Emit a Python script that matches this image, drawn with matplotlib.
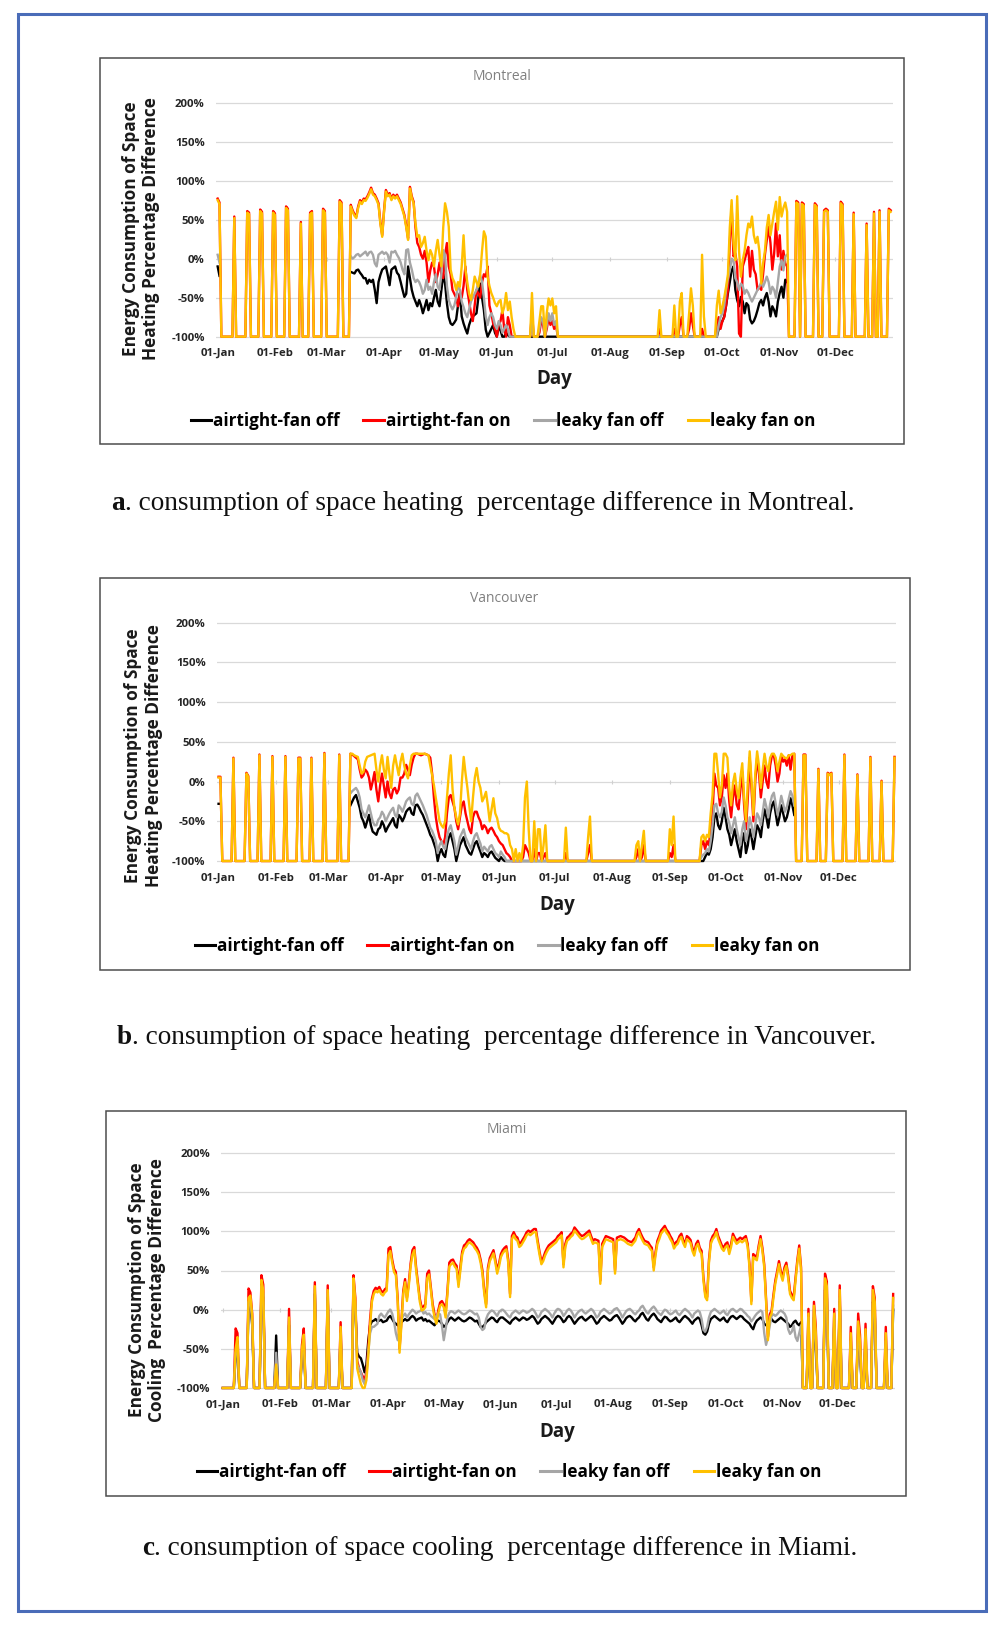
import numpy as np
import matplotlib
matplotlib.use('Agg')
import matplotlib.pyplot as plt
from matplotlib.patches import Rectangle
from matplotlib.lines import Line2D


def unpack(s, name):
    # "_N" = N days at -100 %, "nN" = N days with no value
    out = []
    for tok in s.split():
        if tok.startswith('_'):
            out += [-100.0] * int(tok[1:])
        elif tok.startswith('n'):
            out += [np.nan] * int(tok[1:])
        else:
            out.append(float(tok))
    if len(out) != 365:
        raise ValueError(f"{name}: {len(out)} values")
    return np.array(out)


days = np.arange(365)
month_starts = [0, 31, 59, 90, 120, 151, 181, 212, 243, 273, 304, 334]
month_labels = ['01-Jan', '01-Feb', '01-Mar', '01-Apr', '01-May', '01-Jun',
                '01-Jul', '01-Aug', '01-Sep', '01-Oct', '01-Nov', '01-Dec']
y_ticks = [-100, -50, 0, 50, 100, 150, 200]
y_tick_labels = ['-100%', '-50%', '0%', '50%', '100%', '150%', '200%']
series_labels = ['airtight-fan off', 'airtight-fan on', 'leaky fan off', 'leaky fan on']
series_colors = ['#000000', '#ff0000', '#a6a6a6', '#ffc000']

# ---------------- Montreal (heating) ----------------
mtl_yellow = unpack(
    "75 70 _7 52 _6 59 57 _5 61 58 _5 59 56 _5 65 62 _6 45 _4 57 59 _5 62 59 _7 73 70 _4 "
    "67 60 55 52 65 73 70 75 74 78 83 89 82 80 75 69 45 28 60 86 "
    "80 82 75 80 77 80 75 70 62 54 40 24 90 78 71 45 28 30 15 20 "
    "28 10 -2 11 5 -10 10 24 5 -10 40 71 60 41 -14 -25 -30 -40 -30 -36 "
    "-10 30 -14 -30 -45 -53 -40 -23 -30 -36 -20 10 35 28 -23 -35 -44 -50 -57 -61 "
    "-55 -53 -70 -62 -44 -66 -55 -75 -90 -100 "
    "_8 -44 _3 -80 -61 -61 -100 -70 -51 -60 -51 -70 -61 _55 -66 _7 "
    "-60 _2 -55 -44 _3 -70 -38 -60 _4 5 -74 _6 "
    "-60 -41 -70 -61 -50 -36 -20 40 75 20 -2 80 10 -23 -2 10 30 45 40 54 "
    "30 20 28 10 -32 -6 10 40 56 30 45 60 73 37 79 54 65 72 60 "
    "_4 72 70 -100 70 68 _5 69 66 _3 60 62 60 _6 71 68 _5 57 _6 43 _3 58 _2 60 _4 62 60",
    'mtl_yellow')
mtl_red = unpack(
    "77 72 _7 54 _6 61 59 _5 63 60 _5 61 58 _5 67 64 _6 47 _4 59 61 _5 64 61 _7 75 72 _4 "
    "69 62 57 54 67 75 72 77 76 80 85 91 84 82 77 71 47 30 62 88 "
    "82 84 77 82 79 82 77 72 64 56 42 26 92 80 73 "
    "40 20 15 5 0 10 -5 -30 -15 -5 -10 -30 -20 -5 -20 -25 5 20 -10 -20 "
    "-40 -45 -50 -61 -45 -50 -35 -10 -40 -55 -70 -80 -60 -40 -45 -50 -30 -20 -23 -10 "
    "-60 -70 -83 -90 -100 -85 -80 -66 -90 -100 -75 -85 _3 "
    "_8 -70 _3 -95 -80 -85 -100 -90 -75 -85 -80 -90 -85 _55 -90 _7 "
    "-90 _2 -85 -75 _3 -90 -70 -85 _4 -90 _7 "
    "-85 -75 -90 -80 -75 -60 -40 20 67 3 7 -10 -96 -100 -10 -2 7 15 -23 10 "
    "-14 -20 -40 -36 -40 -20 5 24 41 20 -14 7 45 3 30 -14 10 -6 -10 "
    "_4 74 72 -100 72 70 _5 71 68 _3 62 64 62 _6 73 70 _5 59 _6 45 _3 60 _2 62 _4 64 62",
    'mtl_red')
mtl_black = unpack(
    "-10 -22 n70 "
    "-17 -18 -19 -15 -14 -18 -21 -25 -25 -32 -27 -30 -27 -40 -57 -30 -21 -14 -12 -10 "
    "-21 -34 -14 -12 -10 -18 -21 -30 -40 -49 -45 -10 -25 -40 -49 -55 -61 -53 -60 -70 "
    "-62 -53 -66 -57 -61 -50 -40 -55 -61 -40 -20 -32 -57 -75 -83 -85 -82 -78 -60 -44 "
    "-74 -83 -90 -96 -85 -78 -74 -72 -70 -50 -32 -50 -66 -91 -100 -95 -90 -85 -95 -100 "
    "-87 -92 _2 -95 -98 _4 "
    "_85 "
    "_24 -90 -85 -80 -74 -60 -44 -30 -15 -10 -40 -53 -61 -49 -55 -70 -57 -60 -78 -83 "
    "-80 -74 -66 -57 -53 -60 -50 -44 -55 -74 -61 -66 -74 -55 -44 -36 -50 -27 -30 "
    "n56",
    'mtl_black')
mtl_grey = unpack(
    "5 -5 n70 "
    "3 0 2 5 6 3 5 7 9 4 8 9 5 -6 -10 5 7 9 6 8 "
    "5 -5 9 8 10 5 1 -5 -14 -20 11 12 -5 -14 -25 -30 -27 -30 -36 -45 "
    "-40 -27 -40 -36 -45 -30 -20 -36 -40 -20 11 5 -35 -53 -60 -65 -60 -50 -32 -40 "
    "-55 -62 -70 -75 -65 -55 -50 -45 -40 -30 -21 -30 -50 -74 -85 -75 -70 -75 -85 -90 "
    "-80 -85 -95 -90 -85 -90 _4 "
    "_8 -80 _3 -90 -75 -80 -100 -85 -70 -80 -70 -85 -80 _55 -100 _7 "
    "_24 -85 -75 -70 -60 -40 -25 -15 0 -2 -25 -30 -40 -32 -35 -45 -40 -44 -50 -55 "
    "-50 -45 -40 -36 -30 -36 -30 -23 -30 -45 -36 -40 -50 -30 -10 -2 -15 3 5 "
    "n56",
    'mtl_grey')

# ---------------- Vancouver (heating) ----------------
van_yellow = unpack(
    "5 5 _6 29 _6 10 6 _5 33 _6 31 _6 31 _6 29 29 _5 29 _6 35 _7 33 _5 "
    "35 35 33 32 31 20 10 12 25 31 32 33 34 35 15 0 20 33 15 4 "
    "31 10 -8 20 33 20 8 25 35 20 10 4 20 33 35 35 35 35 35 35 "
    "35 34 33 20 8 -5 -21 -35 -50 -55 -58 -50 -20 10 33 -10 -33 -45 -54 -40 "
    "0 31 10 -8 -30 -50 -20 5 17 0 -8 -25 -20 -13 -30 -50 -35 -21 -40 -46 "
    "-58 -62 -63 -65 -65 -67 -80 -85 -100 -85 -100 "
    "-90 -100 -80 -20 0 -60 _2 -50 -100 -60 -60 -100 -80 -55 _10 -58 _11 -70 -44 _24 "
    "-80 -75 -100 -80 -62 _13 -60 -80 -44 _14 "
    "-70 -67 -75 -67 -70 -40 -17 35 35 10 -20 -5 35 35 30 -8 -30 -2 10 -10 "
    "-21 5 23 -20 -50 0 38 0 -42 10 38 20 -8 15 35 20 13 30 35 35 "
    "30 13 25 35 32 30 29 33 33 35 35 "
    "_4 33 33 _6 15 _4 10 8 10 _6 33 _6 8 _6 30 _5 0 _6 30",
    'van_yellow')
van_red = unpack(
    "6 6 _6 30 _6 11 7 _5 34 _6 32 _6 32 _6 30 30 _5 30 _6 36 _7 34 _5 "
    "35 34 32 30 28 15 5 8 15 12 5 -10 0 12 -10 -25 -5 10 -5 -20 "
    "0 -15 -21 -10 -8 -15 -10 5 5 10 21 15 8 21 30 35 35 34 33 34 "
    "35 34 33 30 10 -21 -45 -60 -70 -75 -80 -70 -40 -20 -17 -25 -33 -50 -60 -45 "
    "-30 -25 -40 -50 -60 -65 -45 -38 -38 -45 -50 -60 -55 -58 -65 -60 -58 -62 -67 -70 "
    "-75 -78 -80 -85 -90 -92 -95 -100 -100 -100 -100 "
    "_2 -95 -80 -85 -90 _2 -85 -100 -90 -90 -100 -95 -90 _10 -90 _11 -90 -80 _24 "
    "-95 -85 -100 -95 -80 _13 -90 -95 -80 _14 "
    "-80 -75 -85 -75 -80 -60 -40 10 -5 -8 -30 -20 8 -8 10 -25 -45 -20 -5 -29 "
    "-35 -10 12 -30 -60 -20 30 -10 -50 0 30 10 -20 0 20 0 -8 20 33 33 "
    "20 0 10 33 25 28 20 33 15 33 35 "
    "_4 34 34 _6 16 _4 11 9 11 _6 34 _6 9 _6 31 _5 1 _6 31",
    'van_red')
van_black = unpack(
    "-28 -28 n69 "
    "-30 -25 -20 -17 -25 -33 -45 -50 -58 -50 -42 -55 -63 -65 -67 -60 -58 -50 -55 -63 "
    "-58 -54 -50 -46 -55 -58 -42 -45 -50 -45 -38 -35 -33 -40 -42 -30 -29 -33 -38 -42 "
    "-48 -54 -60 -67 -71 -78 -85 -100 -90 -85 -92 -95 -80 -70 -65 -75 -85 -100 -90 -80 "
    "-75 -70 -80 -85 -90 -92 -85 -78 -75 -82 -88 -95 -90 -92 -95 -90 -88 -92 -96 -98 "
    "-100 -95 -98 -100 -100 -100 -100 -100 -100 -100 -100 "
    "_98 "
    "-100 -100 -95 -90 -92 -85 -70 -45 -40 -55 -60 -50 -33 -45 -60 -67 -80 -70 -60 -75 "
    "-85 -95 -75 -65 -90 -80 -60 -70 -85 -70 -55 -60 -70 -50 -35 -45 -58 -40 -30 -25 "
    "-40 -55 -45 -30 -40 -50 -45 -35 -21 -30 -42 "
    "n54",
    'van_black')
van_grey = unpack(
    "n71 "
    "-15 -12 -10 -8 -12 -20 -35 -40 -45 -38 -30 -40 -50 -55 -55 -48 -45 -38 -42 -50 "
    "-45 -40 -36 -33 -42 -45 -30 -33 -38 -32 -25 -22 -20 -28 -30 -18 -15 -20 -25 -30 "
    "-36 -42 -50 -58 -62 -68 -75 -90 -80 -75 -82 -85 -70 -60 -55 -65 -75 -92 -82 -70 "
    "-65 -60 -70 -75 -80 -85 -75 -68 -65 -72 -78 -88 -82 -85 -88 -82 -80 -85 -90 -92 "
    "-95 -88 -92 -95 -100 -100 -100 -100 -100 -100 -100 "
    "_98 "
    "-95 -92 -90 -85 -88 -75 -55 -30 -28 -40 -45 -38 -20 -30 -45 -52 -65 -55 -45 -60 "
    "-70 -80 -60 -50 -75 -65 -45 -55 -70 -55 -40 -45 -55 -38 -22 -32 -45 -28 -18 -14 "
    "-28 -42 -32 -18 -28 -38 -32 -22 -12 -18 -30 "
    "n54",
    'van_grey')

# ---------------- Miami (cooling) ----------------
mia_yellow = unpack(
    "_7 -50 -35 _5 15 18 -8 _4 38 25 _6 -70 _6 -10 _6 -50 -32 _5 30 _6 25 _6 -22 _6 "
    "40 10 -75 -85 -95 -100 -100 -90 -60 "
    "-20 10 20 24 22 25 20 18 22 24 70 75 60 48 44 10 -55 -20 20 35 "
    "11 30 55 70 76 50 30 10 -1 0 3 40 45 25 3 -10 -18 -5 5 7 "
    "3 -10 20 55 58 60 55 52 29 50 70 78 80 84 86 84 82 78 75 70 "
    "60 46 20 3 50 62 67 72 60 46 55 67 72 75 77 60 16 90 95 90 "
    "88 80 82 86 90 95 "
    "97 95 97 99 99 84 70 58 62 69 74 78 80 82 84 86 90 92 95 54 "
    "80 88 90 93 95 101 98 95 92 90 91 93 95 97 90 84 86 85 84 33 "
    "80 85 90 89 88 87 86 46 88 89 90 89 88 86 84 83 82 85 88 95 "
    "99 93 88 84 83 82 78 75 50 70 84 90 97 100 103 98 95 90 86 78 "
    "82 84 90 93 85 80 90 88 85 75 69 80 84 75 71 37 16 12 60 84 "
    "90 93 99 90 84 78 75 80 82 71 80 93 88 84 86 88 86 88 90 80 "
    "54 7 67 65 63 78 90 75 54 10 -39 -10 -5 15 33 45 58 45 37 50 "
    "56 40 20 15 12 37 60 78 50 "
    "_3 -5 _2 5 -30 _4 40 30 _3 -5 _2 25 _5 -30 _3 -15 -40 _2 -25 _3 25 10 _5 -30 _3 15",
    'mia_yellow')
mia_red = unpack(
    "_7 -24 -30 _5 27 22 -5 _4 44 32 _6 -65 _6 1 _6 -45 -24 _5 35 _6 31 _6 -16 _6 "
    "44 15 -65 -75 -80 -85 -90 -80 -50 "
    "-12 14 24 28 26 29 24 22 26 28 78 80 64 52 48 14 -50 -15 24 39 "
    "15 34 59 76 80 54 34 14 3 4 7 46 50 29 7 -6 -14 -1 9 11 "
    "7 -6 24 60 63 64 59 56 33 55 74 82 84 88 90 88 86 82 79 74 "
    "64 50 24 7 54 66 71 76 64 50 59 71 76 79 81 64 20 94 99 94 "
    "92 84 86 90 94 99 "
    "101 99 101 103 103 88 74 62 66 73 78 82 84 86 88 90 94 96 99 58 "
    "84 92 94 97 99 105 102 99 96 94 95 97 99 101 94 88 90 89 88 37 "
    "84 89 94 93 92 91 90 50 92 93 94 93 92 90 88 87 86 89 92 99 "
    "103 97 92 88 87 86 82 79 54 74 88 94 101 104 107 102 99 94 90 82 "
    "86 88 94 97 89 84 94 92 89 79 73 84 88 79 75 41 20 16 64 88 "
    "94 97 103 94 88 82 79 84 86 75 84 97 92 88 90 92 90 92 94 84 "
    "58 11 71 69 67 82 94 79 58 14 -35 -6 -1 19 37 49 62 49 41 54 "
    "60 44 24 19 16 41 64 82 54 "
    "_3 1 _2 10 -22 _4 46 36 _3 1 _2 31 _5 -22 _3 -5 -32 _2 -18 _3 30 15 _5 -22 _3 20",
    'mia_red')
mia_black = unpack(
    "_7 -60 -50 _5 5 8 -20 _4 25 15 _6 -33 _6 -20 _6 -60 -45 _5 20 _6 15 _6 -35 _6 "
    "30 0 -55 -60 -62 -70 -80 -70 -40 -20 -15 "
    "-14 -12 -15 -14 -13 -16 -15 -14 -10 -8 -12 -16 -18 -20 -18 -16 -14 -12 "
    "-14 -13 -10 -8 -10 -14 -12 -11 -10 -14 -12 -15 -14 -16 -18 -20 -16 -14 -15 -18 "
    "-22 -20 -16 -12 -10 -12 -14 -12 -10 -12 -14 -15 -14 -12 -10 -11 -13 -15 -14 -18 -22 -22 "
    "-20 -16 -14 -12 -10 -11 -14 -16 -12 -10 -10 -12 -14 -16 -18 -14 -12 -10 -12 -14 "
    "-12 -10 -11 -13 -12 -10 -8 -10 -14 -18 -16 -12 -10 -8 -10 -12 -15 -18 -14 -10 "
    "-8 -9 -12 -16 -14 -10 -8 -10 -14 -18 -15 -12 -10 -9 -12 -14 -12 -10 -8 "
    "-10 -14 -18 -16 -12 -10 -8 -10 -12 -14 -13 -10 -8 -7 -10 -14 -18 -15 -11 -9 "
    "-8 -10 -13 -15 -12 -10 -6 -4 -8 -12 -14 -10 -7 -5 -8 -12 -14 -16 -12 -9 "
    "-10 -13 -15 -14 -12 -10 -14 -16 -13 -10 -8 -10 -12 -15 -18 -14 -12 -10 -12 -20 "
    "-30 -32 -28 -18 -12 -10 -8 -10 -12 -14 -12 -10 -14 -16 -12 -9 -8 -10 -12 -10 "
    "-8 -9 -12 -14 -16 -18 -22 -25 -18 -14 -12 -10 -12 -18 -20 -18 -14 -12 -15 -16 "
    "-14 -12 -10 -12 -14 -16 -18 -22 -20 -16 -14 -18 -20 -16 "
    "_3 -20 _2 -10 -45 _4 25 15 _3 -20 _2 10 _5 -45 _3 -30 -55 _2 -40 _3 10 -5 _5 -45 _3 0",
    'mia_black')
mia_grey = unpack(
    "_7 -55 -45 _5 10 12 -15 _4 30 20 _6 -55 _6 -15 _6 -55 -40 _5 25 _6 20 _6 -30 _6 "
    "35 5 -70 -75 -80 -90 -95 -85 -55 -30 -22 "
    "-22 -20 -18 -8 -5 -8 -10 -6 -2 0 -5 -15 -30 -39 -25 -12 -8 -5 "
    "-10 -6 -3 0 -2 -5 -3 -2 0 -5 -3 -6 -5 -8 -10 -12 -8 -5 -6 -20 "
    "-39 -25 -10 -4 -2 -3 -5 -3 -1 -3 -5 -6 -5 -3 -1 -2 -4 -6 -5 -10 -22 -26 "
    "-24 -12 -6 -3 -1 -2 -5 -8 -3 -1 0 -2 -5 -8 -10 -5 -3 -1 -3 -5 "
    "-3 -1 -2 -4 -3 -1 1 -1 -5 -10 -8 -3 -1 1 -1 -3 -6 -10 -5 -1 "
    "1 0 -3 -8 -5 -1 1 -1 -5 -10 -6 -3 -1 0 -3 -5 -3 -1 1 "
    "-1 -5 -10 -8 -3 -1 1 -1 -3 -5 -4 -1 1 2 -1 -5 -10 -6 -2 0 "
    "1 -1 -4 -6 -3 -1 3 5 1 -3 -5 -1 2 4 1 -3 -5 -7 -3 0 "
    "-1 -4 -6 -5 -3 -1 -5 -7 -4 -1 1 -1 -3 -6 -10 -5 -3 -1 -3 -12 "
    "-26 -28 -22 -10 -3 -1 1 -1 -3 -5 -3 -1 -5 -7 -3 0 1 -1 -3 -1 "
    "1 0 -3 -5 -8 -10 -15 -12 -8 -5 -3 -1 -3 -30 -45 -35 -20 -8 -6 -8 "
    "-6 -3 -1 -3 -5 -10 -25 -31 -28 -20 -35 -40 -30 -20 "
    "_3 -10 _2 0 -40 _4 30 20 _3 -10 _2 15 _5 -40 _3 -25 -50 _2 -35 _3 15 0 _5 -40 _3 5",
    'mia_grey')

# ---------------- layout (pixels of the 1002 x 1626 page) ----------------
W, H = 1002, 1626
SANS = ['Open Sans', 'DejaVu Sans']
SERIF = ['Liberation Serif', 'DejaVu Serif']

panels = [
    dict(data=(mtl_black, mtl_red, mtl_grey, mtl_yellow), title='Montreal',
         ylabel='Energy Consumption of Space\nHeating Percentage Difference',
         box=(100, 58, 904, 444), axes=(215.8, 99.5, 892.5, 339.8),
         title_xy=(502, 77), ylabel_xy=(141, 229), day_xy=(554, 379), legend_xy=(503, 421),
         letter='a', caption='. consumption of space heating  percentage difference in Montreal.',
         caption_xy=(483, 504)),
    dict(data=(van_black, van_red, van_grey, van_yellow), title='Vancouver',
         ylabel='Energy Consumption of Space\nHeating Percentage Difference',
         box=(100, 578, 910, 970), axes=(216.7, 619.4, 896.4, 864.2),
         title_xy=(504, 598), ylabel_xy=(143.5, 756), day_xy=(557, 904.5), legend_xy=(507, 946),
         letter='b', caption='. consumption of space heating  percentage difference in Vancouver.',
         caption_xy=(496, 1037)),
    dict(data=(mia_black, mia_red, mia_grey, mia_yellow), title='Miami',
         ylabel='Energy Consumption of Space\nCooling  Percentage Difference',
         box=(106, 1111, 906, 1496), axes=(220.9, 1149.9, 895.0, 1391.1),
         title_xy=(506.6, 1129), ylabel_xy=(146.6, 1290), day_xy=(557, 1432), legend_xy=(509, 1472),
         letter='c', caption='. consumption of space cooling  percentage difference in Miami.',
         caption_xy=(500, 1548)),
]


def fxy(x, y):
    return x / W, 1 - y / H


fig = plt.figure(figsize=(W / 100, H / 100), dpi=100)
fig.patch.set_facecolor('white')
renderer = fig.canvas.get_renderer()

# outer blue frame
fig.add_artist(Rectangle(fxy(18, 1611), (986 - 18) / W, (1611 - 14.5) / H,
                         transform=fig.transFigure, fill=False, ec='#4a6cb8', lw=2.2))

for p in panels:
    bl, bt, br, bb = p['box']
    fig.add_artist(Rectangle(fxy(bl, bb), (br - bl) / W, (bb - bt) / H,
                             transform=fig.transFigure, fill=False, ec='#4d4d4d', lw=1.1))

    l, t, r, b = p['axes']
    ax = fig.add_axes([l / W, 1 - b / H, (r - l) / W, (b - t) / H])
    for vals, col in zip(p['data'], series_colors):
        ax.plot(days, vals, color=col, lw=1.7, zorder=3)

    ax.set_xlim(-1, 365)
    ax.set_ylim(-104, 204)
    ax.set_yticks(y_ticks)
    ax.set_yticklabels(y_tick_labels)
    ax.set_xticks(month_starts)
    ax.set_xticklabels(month_labels)
    ax.tick_params(axis='both', length=0, labelsize=8.2, colors='#262626')
    ax.tick_params(axis='y', pad=8)
    ax.tick_params(axis='x', pad=6)
    for lab in ax.get_xticklabels() + ax.get_yticklabels():
        lab.set_family(SANS)
        lab.set_fontweight('bold')
    ax.yaxis.grid(True, color='#d9d9d9', lw=0.9)
    ax.set_axisbelow(True)
    for s in ax.spines.values():
        s.set_visible(False)
    # small month marks on the 0 % axis line
    ax.vlines(month_starts, -2.5, 2.5, color='#d0d0d0', lw=0.8, zorder=1)

    fig.text(*fxy(*p['title_xy']), p['title'], ha='center', va='center',
             color='#808080', fontsize=10, family=SANS)
    fig.text(*fxy(*p['ylabel_xy']), p['ylabel'], ha='center', va='center', rotation=90,
             fontsize=12.4, fontweight='bold', family=SANS, color='#1a1a1a',
             linespacing=1.15, multialignment='center')
    fig.text(*fxy(*p['day_xy']), 'Day', ha='center', va='center',
             fontsize=13.5, fontweight='bold', family=SANS, color='#1a1a1a')

    handles = [Line2D([], [], color=c, lw=2.2) for c in series_colors]
    fig.legend(handles, series_labels, loc='center', bbox_to_anchor=fxy(*p['legend_xy']),
               ncol=4, frameon=False, handlelength=1.2, handletextpad=0.1,
               columnspacing=1.4, prop=dict(family=SANS, weight='bold', size=12.3))

    # caption: bold letter followed by plain text, centred as one line
    cx, cy = p['caption_xy']
    t1 = fig.text(0, 0, p['letter'], fontsize=19.6, fontweight='bold', family=SERIF,
                  va='center', color='#111111')
    t2 = fig.text(0, 0, p['caption'], fontsize=19.6, family=SERIF, va='center', color='#111111')
    w1 = t1.get_window_extent(renderer).width
    w2 = t2.get_window_extent(renderer).width
    x0 = cx - (w1 + w2) / 2
    t1.set_position(fxy(x0, cy))
    t2.set_position(fxy(x0 + w1, cy))

fig.savefig('out.png', dpi=100, facecolor='white')
